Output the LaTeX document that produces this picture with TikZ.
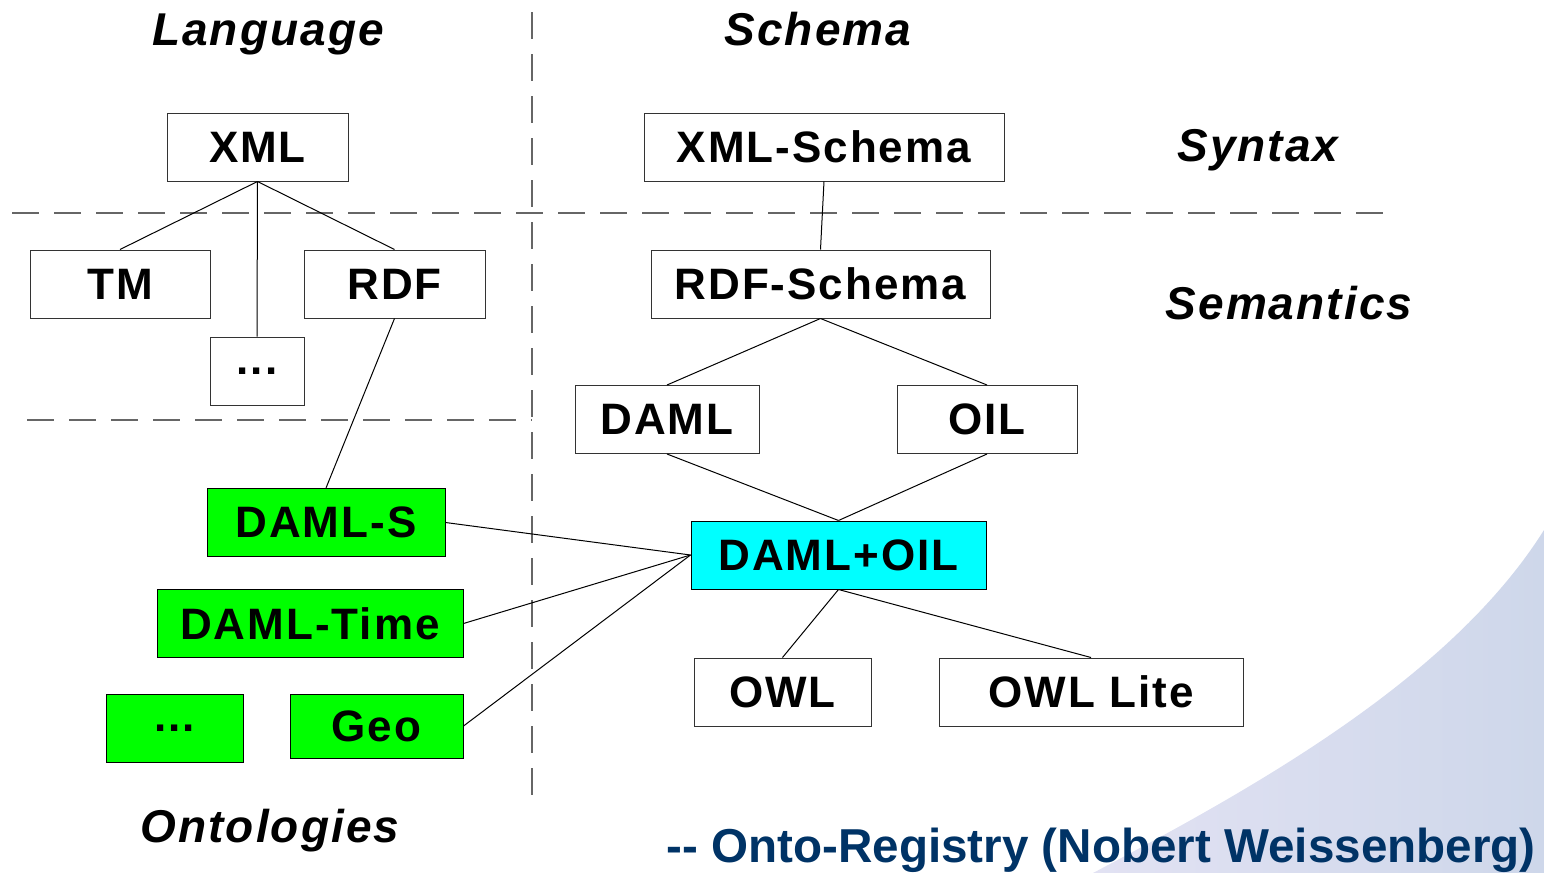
\documentclass[tikz,border=0pt]{standalone}
\usepackage{fontspec}
\setmainfont{Liberation Sans}
\newfontfamily\spacedfont[LetterSpace=4.5]{Liberation Sans}
\usepackage{tikz}
\usetikzlibrary{positioning}
\usetikzlibrary{calc}
\definecolor{damlgreen}{RGB}{0,255,0}
\definecolor{damlcyan}{RGB}{0,255,255}
\definecolor{credit}{RGB}{0,51,102}
\definecolor{swooshA}{RGB}{226,226,243}
\definecolor{swooshB}{RGB}{206,215,234}
\newcommand{\bnode}[5][item]{\node(#2)[#1,minimum width=#4] at (#3) {#5}}
\newcommand{\heading}[3]{\node(#1)[heading] at (#2) {#3}}

\begin{document}
\begin{tikzpicture}[
        x=0.5pt, y=-0.5pt,
        every node/.style={font=\spacedfont\fontsize{22}{26}\selectfont\bfseries},
        item/.style={rectangle,minimum height=34pt,inner sep=0pt,
                     draw=black!80,line width=0.5pt,fill=white},
        greenitem/.style={item,fill=damlgreen,draw=black},
        cyanitem/.style={item,fill=damlcyan,draw=black},
        heading/.style={anchor=base,inner sep=0pt,
                        font=\spacedfont\fontsize{23}{26}\selectfont\bfseries\itshape},
        sep/.style={draw=black!60,line width=0.6pt,dash pattern=on 13.5pt off 7.5pt},
        link/.style={draw=black,line width=0.5pt}
      ]
      \useasboundingbox (0,0) rectangle (1544,873);
      % background swoosh
      \shade[left color=swooshA,right color=swooshB]
        (1093,873) .. controls (1250,790) and (1450,680) .. (1544,530) -- (1544,873) -- cycle;

      % separators
      \draw[sep] (12,213) -- (1390,213);
      \draw[sep] (27,420) -- (532,420);
      \draw[sep] (532,12) -- (532,800);

      \heading{language}{268,45}{Language};
      \heading{schema}{818,45}{Schema};
      \heading{syntax}{1258,161}{Syntax};
      \heading{semantics}{1289,319}{Semantics};
      \heading{ontologies}{270,842}{Ontologies};

      \bnode{xml}{257.5,147}{90.5pt}{XML};
      \bnode{xmls}{824,147}{180pt}{XML-Schema};
      \bnode{tm}{120,284}{90pt}{TM};
      \bnode{rdf}{394.5,284}{90.5pt}{RDF};
      \bnode{dots}{257,371}{47pt}{...};
      \bnode{rdfs}{820.5,284}{169.5pt}{RDF-Schema};
      \bnode{daml}{667,419.5}{92pt}{DAML};
      \bnode{oil}{987,419.5}{90pt}{OIL};
      \bnode[cyanitem]{damloil}{838.5,555}{147.5pt}{DAML+OIL};
      \bnode{owl}{782.5,692}{88.5pt}{OWL};
      \bnode{owllite}{1091,692}{152pt}{OWL Lite};
      \bnode[greenitem]{damls}{326,522.5}{119pt}{DAML-S};
      \bnode[greenitem]{damltime}{310,623.5}{153pt}{DAML-Time};
      \bnode[greenitem]{gdots}{174.5,728}{68.5pt}{...};
      \bnode[greenitem,minimum height=32pt]{geo}{376.5,726}{86.5pt}{Geo};

      \foreach \n in {tm,rdf,dots}
        \draw[link] (xml.south) -- (\n.north);
      \draw[link] (xmls.south) -- (rdfs.north);
      \draw[link] (rdf.south) -- (damls.north);
      \foreach \n in {daml,oil}{
        \draw[link] (rdfs.south) -- (\n.north);
        \draw[link] (\n.south) -- (damloil.north);
      }
      \foreach \n in {damls,damltime,geo}
        \draw[link] (damloil.west) -- (\n.east);
      \foreach \n in {owl,owllite}
        \draw[link] (damloil.south) -- (\n.north);

      \node(credit)[text=credit,font=\fontsize{23.8}{27}\selectfont\bfseries] at (1101,850)
        {-{}- Onto-Registry (Nobert Weissenberg)};
    \end{tikzpicture}
\end{document}
